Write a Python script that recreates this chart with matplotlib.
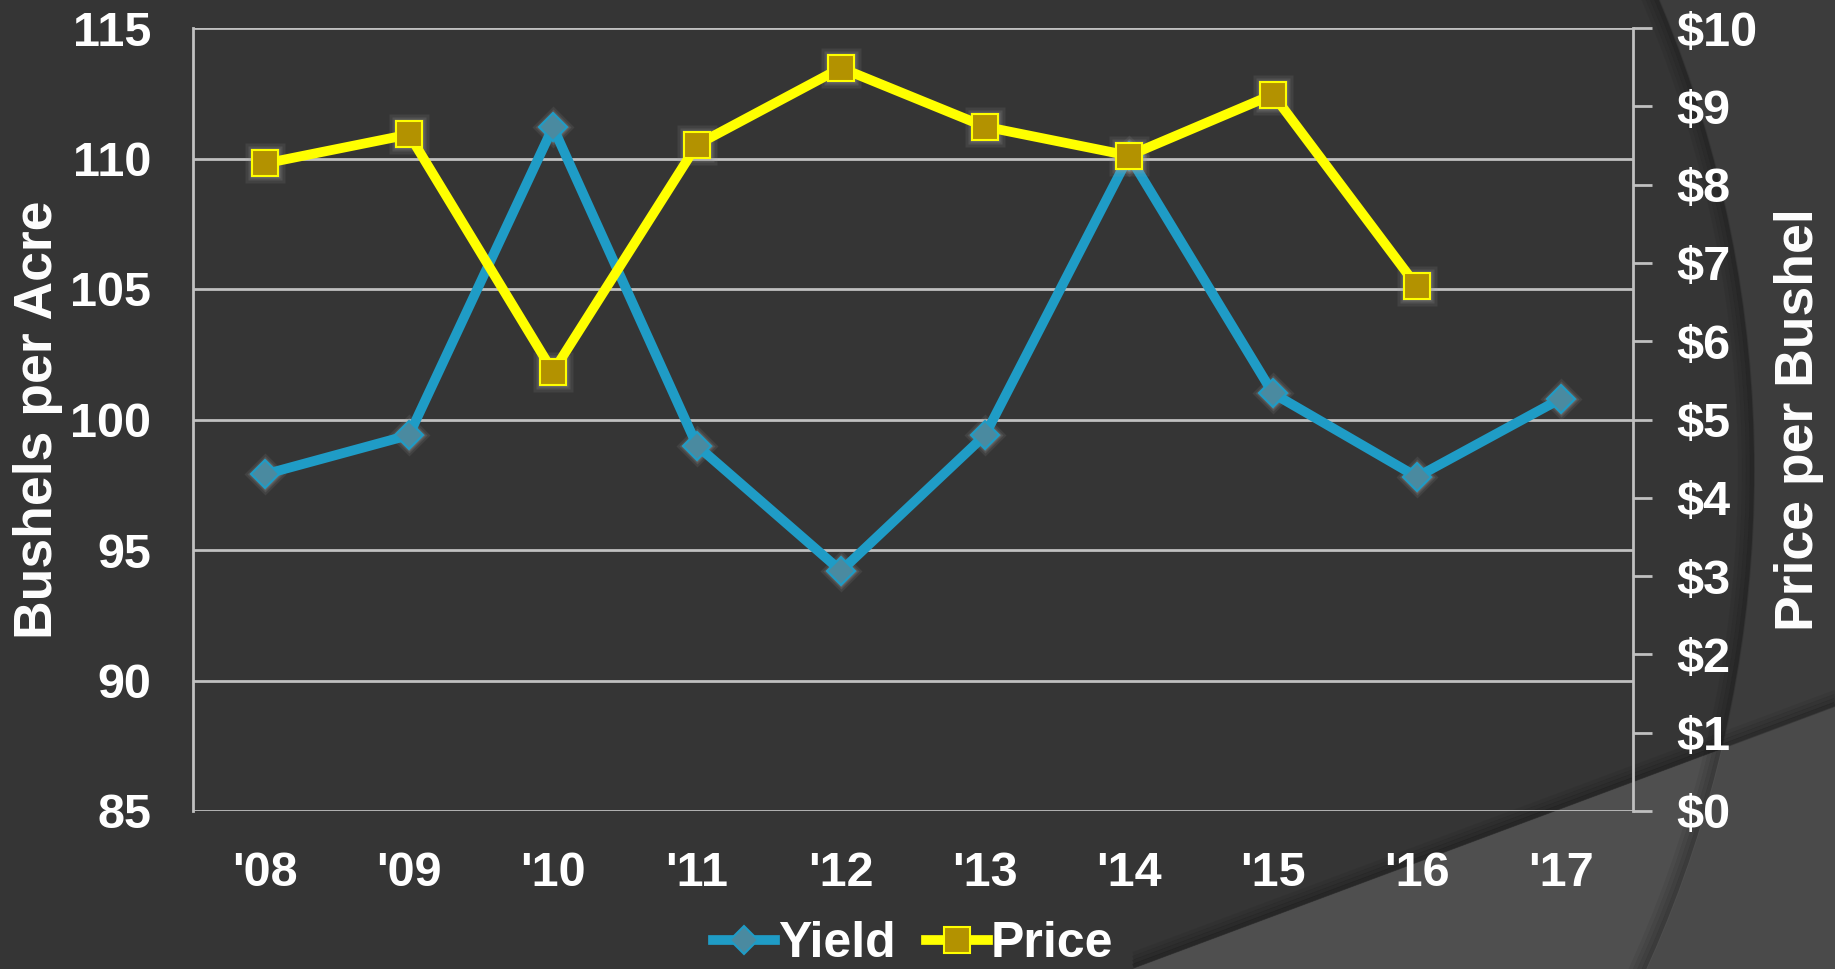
import matplotlib.pyplot as plt
from matplotlib.patches import Circle, Polygon
import numpy as np

plt.rcParams['font.family'] = ['Liberation Sans', 'DejaVu Sans']
plt.rcParams['font.weight'] = 'bold'

years = ["'08", "'09", "'10", "'11", "'12", "'13", "'14", "'15", "'16", "'17"]
yield_bu = [97.9, 99.4, 111.2, 99.0, 94.2, 99.4, 110.1, 101.0, 97.8, 100.8]
price = [8.27, 8.64, 5.61, 8.51, 9.49, 8.74, 8.37, 9.15, 6.70]

W, H = 1835, 969
fig = plt.figure(figsize=(W / 100, H / 100), dpi=100)
fig.patch.set_facecolor('#3c3c3c')

# background decoration (theme arcs), drawn in pixel coords
bg = fig.add_axes([0, 0, 1, 1], zorder=-10)
bg.set_xlim(0, W)
bg.set_ylim(H, 0)
bg.axis('off')
cx, cy, R = 545, 470, 1210
wedge = [(1133, H), (W, 707), (W, H)]
bg.add_patch(Circle((cx, cy), R, facecolor='#353535', edgecolor='none'))
bg.add_patch(Polygon(wedge, facecolor='#4a4a4a', edgecolor='none'))
inner = Circle((cx, cy), R, transform=bg.transData)
p = Polygon(wedge, facecolor='#4f4f4f', edgecolor='none')
bg.add_patch(p)
p.set_clip_path(inner)
# soft shadows along the arc and the wedge edge
for i, a in enumerate([0.25, 0.18, 0.12, 0.06]):
    bg.add_patch(Circle((cx, cy), R - 3 - i * 4, facecolor='none', edgecolor='black', lw=3, alpha=a))
xs = np.array([1133, W])
ys = np.array([H, 707])
for i, a in enumerate([0.25, 0.18, 0.12, 0.06]):
    bg.plot(xs, ys - 3 - i * 4, color='black', lw=3, alpha=a, solid_capstyle='butt')

ax = fig.add_axes([193 / W, 1 - 811 / H, 1440 / W, 783 / H])
ax.patch.set_alpha(0)
x = np.arange(len(years))
grid_c = '#c0c0c0'

ax.set_ylim(85, 115)
ax.set_yticks(np.arange(85, 116, 5))
ax.set_xlim(-0.5, len(years) - 0.5)
ax.set_xticks(x)
ax.set_xticklabels(years)
ax.grid(axis='y', color=grid_c, lw=2)
ax.tick_params(axis='both', length=0, labelcolor='white', labelsize=35)
ax.tick_params(axis='y', pad=30)
ax.tick_params(axis='x', pad=29)
for s in ['top', 'right', 'bottom']:
    ax.spines[s].set_visible(False)
ax.spines['left'].set_color(grid_c)
ax.spines['left'].set_linewidth(2)
ax.set_ylabel('Bushels per Acre', color='white', fontsize=38.5, fontweight='bold', labelpad=5)

ax2 = ax.twinx()
ax2.set_ylim(0, 10)
ax2.set_yticks(np.arange(0, 11, 1))
ax2.set_yticklabels(['$%d' % v for v in range(11)])
ax2.tick_params(axis='y', length=14, width=2, color=grid_c, labelcolor='white', labelsize=35, pad=17)
for s in ['top', 'left', 'bottom']:
    ax2.spines[s].set_visible(False)
ax2.spines['right'].set_color(grid_c)
ax2.spines['right'].set_linewidth(2)
ax2.set_ylabel('Price per Bushel', color='white', fontsize=38.5, fontweight='bold', labelpad=12)

# soft glow behind markers
n = len(price)
for extra, a in [(10, 0.12), (6, 0.18), (3, 0.25)]:
    ax.plot(x, yield_bu, 'D', ms=14 + extra * 0.7, color='#a0a0a0', alpha=a, mec='none', zorder=2)
    ax2.plot(x[:n], price, 's', ms=19 + extra, color='#a0a0a0', alpha=a, mec='none', zorder=2)

ly, = ax.plot(x, yield_bu, '-D', color='#1f9cc6', lw=7, ms=14, mfc='#4a8aa0', mec='#1f9cc6', mew=1.5, zorder=3)
lp, = ax2.plot(x[:n], price, '-s', color='#ffff00', lw=7, ms=19, mfc='#b39200', mec='#ffff00', mew=1.5, zorder=3)

leg = fig.legend([ly, lp], ['Yield', 'Price'], loc='center', bbox_to_anchor=(913 / W, 1 - 944 / H),
                 ncol=2, frameon=False, fontsize=36, handlelength=1.25, handletextpad=0.05, columnspacing=0.6)
for t in leg.get_texts():
    t.set_color('white')

fig.savefig('out.png', dpi=100, facecolor=fig.get_facecolor())
